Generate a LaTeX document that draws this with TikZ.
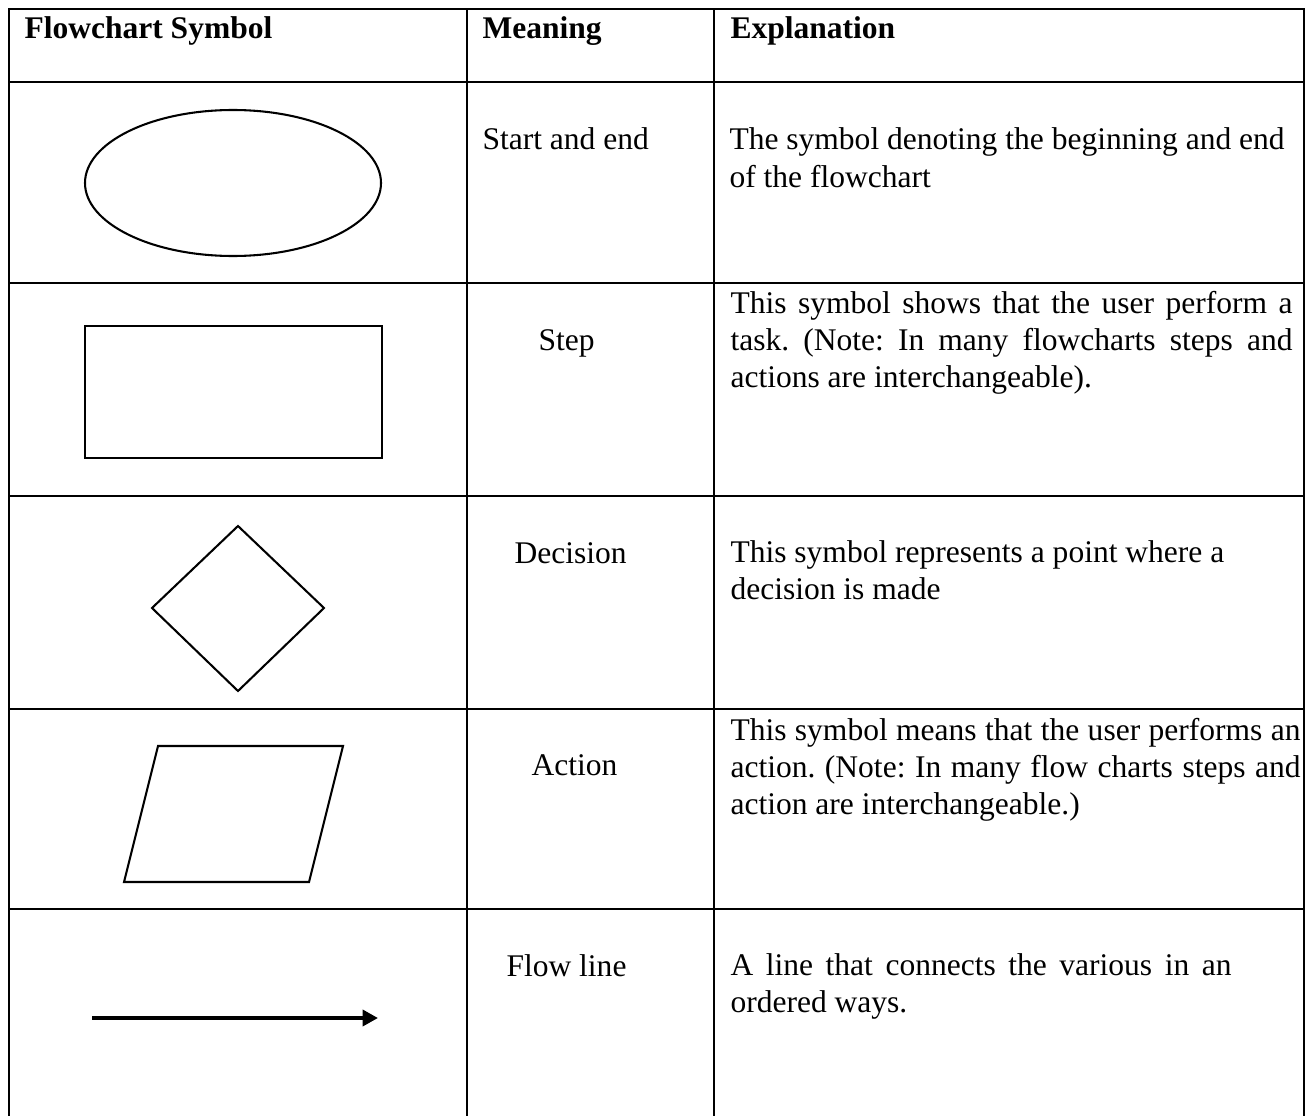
\documentclass[tikz,border=0pt]{standalone}
\usepackage{fontspec}
\setmainfont{Liberation Serif}
\usetikzlibrary{arrows.meta}
\frenchspacing

\newcommand{\jline}[2]{\makebox[#1][s]{#2}}
\newcommand{\explpar}[1]{\parbox[t]{240pt}{\raggedright #1}}

\tikzset{
  rule/.style={line width=1.1pt},
  symb/.style={line width=0.8pt, line join=miter},
  cell/.style={anchor=base west, inner sep=0pt, font=\fontsize{12.2}{14.4}\selectfont},
  head/.style={cell, font=\fontsize{12.2}{14.4}\selectfont\bfseries},
}

\begin{document}
\begin{tikzpicture}[x=0.387pt, y=-0.387pt]
\useasboundingbox (0,0) rectangle (1307,1116);
% table rules
\draw[rule] (9,1116) -- (9,9) -- (1304,9) -- (1304,1116);
\foreach \x in {467,714}
  \draw[rule] (\x,9) -- (\x,1116);
\foreach \y in {82,283,496,709,909}
  \draw[rule] (9,\y) -- (1304,\y);

% header
\node[head] (hsym) at (24,39) {Flowchart Symbol};
\node[head] (hmean) at (482,39) {Meaning};
\node[head] (hexpl) at (730,39) {Explanation};

% symbols
\draw[symb] (233,183) ellipse [x radius=148, y radius=73];
\draw[symb] (85,326) rectangle (382,458);
\draw[symb] (238,526) -- (324,608) -- (238,691) -- (152,608) -- cycle;
\draw[symb] (158,746) -- (343,746) -- (309,882) -- (124,882) -- cycle;
\draw[line width=1.55pt, -{Triangle[length=6pt,width=6.2pt]}] (92,1018) -- (378,1018);

% meanings and explanations
\node[cell] (mstart) at (482,150) {Start and end};
\node[cell] (estart) at (729,150) {\explpar{The symbol denoting the beginning and end\\of the flowchart}};
\node[cell] (mstep) at (538,350) {Step};
\node[cell] (estep) at (730,313) {\explpar{\jline{217.5pt}{This symbol shows that the user perform a}\\
  \jline{217.5pt}{task. (Note: In many flowcharts steps and}\\actions are interchangeable).}};
\node[cell] (mdec) at (514,563) {Decision};
\node[cell] (edec) at (730,562) {\explpar{This symbol represents a point where a\\decision is made}};
\node[cell] (mact) at (531,775) {Action};
\node[cell] (eact) at (730,740) {\explpar{\jline{220.6pt}{This symbol means that the user performs an}\\
  \jline{220.6pt}{action. (Note: In many flow charts steps and}\\action are interchangeable.)}};
\node[cell] (mflow) at (506,976) {Flow line};
\node[cell] (eflow) at (730,975) {\explpar{\jline{193.9pt}{A line that connects the various in an}\\ordered ways.}};
\end{tikzpicture}
\end{document}
